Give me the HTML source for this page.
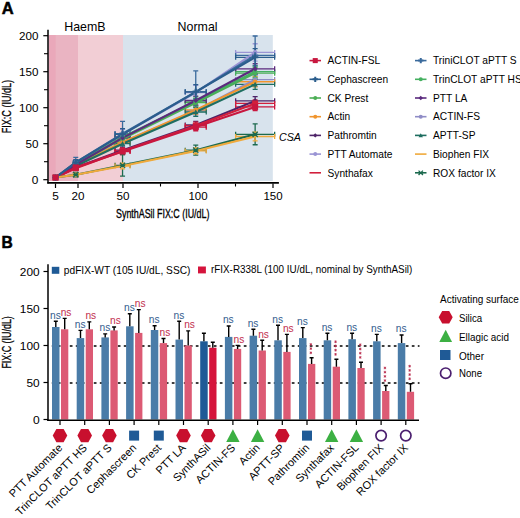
<!DOCTYPE html>
<html><head><meta charset="utf-8"><style>
html,body{margin:0;padding:0;background:#fff;width:520px;height:518px;overflow:hidden}
svg{display:block;font-family:"Liberation Sans", sans-serif}
</style></head><body>
<svg width="520" height="518" viewBox="0 0 520 518">
<rect width="520" height="518" fill="#fff"/>
<rect x="123" y="35" width="149.8" height="146" fill="#d8e3ed"/>
<rect x="48.8" y="35" width="74.2" height="146" fill="#f2ced5"/>
<rect x="48.8" y="35" width="29.20" height="146" fill="#eab4c2"/>
<rect x="48.8" y="35" width="6.90" height="146" fill="#eaa8ba"/>
<path d="M73.5 163.14H78.0M73.5 160.64V165.64M78.0 160.64V165.64" stroke="#9a94d4" stroke-width="1.3"/><path d="M75.75 160.26V166.01M73.25 160.26H78.25M73.25 166.01H78.25" stroke="#9a94d4" stroke-width="1.3"/><path d="M115.05 134.33H130.05M115.05 131.83V136.83M130.05 131.83V136.83" stroke="#9a94d4" stroke-width="1.3"/><path d="M122.55 129.29V139.37M120.05 129.29H125.05M120.05 139.37H125.05" stroke="#9a94d4" stroke-width="1.3"/><path d="M185.25 92.58H206.25M185.25 90.08V95.08M206.25 90.08V95.08" stroke="#9a94d4" stroke-width="1.3"/><path d="M195.75 85.38V99.78M193.25 85.38H198.25M193.25 99.78H198.25" stroke="#9a94d4" stroke-width="1.3"/><path d="M235.64 52.40H274.65M235.64 49.90V54.90M274.65 49.90V54.90" stroke="#9a94d4" stroke-width="1.3"/><path d="M255.14 43.76V61.04M252.64 43.76H257.65M252.64 61.04H257.65" stroke="#9a94d4" stroke-width="1.3"/>
<path d="M73.5 165.29H78.0M73.5 162.79V167.79M78.0 162.79V167.79" stroke="#8f8cc6" stroke-width="1.3"/><path d="M75.75 163.14V167.45M73.25 163.14H78.25M73.25 167.45H78.25" stroke="#8f8cc6" stroke-width="1.3"/><path d="M115.05 142.26H130.05M115.05 139.76V144.76M130.05 139.76V144.76" stroke="#8f8cc6" stroke-width="1.3"/><path d="M122.55 138.66V145.85M120.05 138.66H125.05M120.05 145.85H125.05" stroke="#8f8cc6" stroke-width="1.3"/><path d="M185.25 110.57H206.25M185.25 108.07V113.07M206.25 108.07V113.07" stroke="#8f8cc6" stroke-width="1.3"/><path d="M195.75 106.25V114.89M193.25 106.25H198.25M193.25 114.89H198.25" stroke="#8f8cc6" stroke-width="1.3"/><path d="M235.64 79.61H274.65M235.64 77.11V82.11M274.65 77.11V82.11" stroke="#8f8cc6" stroke-width="1.3"/><path d="M255.14 74.57V84.66M252.64 74.57H257.65M252.64 84.66H257.65" stroke="#8f8cc6" stroke-width="1.3"/>
<path d="M73.5 165.29H78.0M73.5 162.79V167.79M78.0 162.79V167.79" stroke="#f0952e" stroke-width="1.3"/><path d="M75.75 163.14V167.45M73.25 163.14H78.25M73.25 167.45H78.25" stroke="#f0952e" stroke-width="1.3"/><path d="M115.05 142.26H130.05M115.05 139.76V144.76M130.05 139.76V144.76" stroke="#f0952e" stroke-width="1.3"/><path d="M122.55 138.66V145.85M120.05 138.66H125.05M120.05 145.85H125.05" stroke="#f0952e" stroke-width="1.3"/><path d="M185.25 109.85H206.25M185.25 107.35V112.35M206.25 107.35V112.35" stroke="#f0952e" stroke-width="1.3"/><path d="M195.75 105.53V114.17M193.25 105.53H198.25M193.25 114.17H198.25" stroke="#f0952e" stroke-width="1.3"/><path d="M235.64 81.77H274.65M235.64 79.27V84.27M274.65 79.27V84.27" stroke="#f0952e" stroke-width="1.3"/><path d="M255.14 76.73V86.82M252.64 76.73H257.65M252.64 86.82H257.65" stroke="#f0952e" stroke-width="1.3"/>
<path d="M73.5 164.57H78.0M73.5 162.07V167.07M78.0 162.07V167.07" stroke="#4cae55" stroke-width="1.3"/><path d="M75.75 162.42V166.73M73.25 162.42H78.25M73.25 166.73H78.25" stroke="#4cae55" stroke-width="1.3"/><path d="M115.05 138.66H130.05M115.05 136.16V141.16M130.05 136.16V141.16" stroke="#4cae55" stroke-width="1.3"/><path d="M122.55 135.06V142.26M120.05 135.06H125.05M120.05 142.26H125.05" stroke="#4cae55" stroke-width="1.3"/><path d="M185.25 102.66H206.25M185.25 100.16V105.16M206.25 100.16V105.16" stroke="#4cae55" stroke-width="1.3"/><path d="M195.75 98.34V106.97M193.25 98.34H198.25M193.25 106.97H198.25" stroke="#4cae55" stroke-width="1.3"/><path d="M235.64 73.13H274.65M235.64 70.63V75.63M274.65 70.63V75.63" stroke="#4cae55" stroke-width="1.3"/><path d="M255.14 67.37V78.89M252.64 67.37H257.65M252.64 78.89H257.65" stroke="#4cae55" stroke-width="1.3"/>
<path d="M73.5 163.85H78.0M73.5 161.35V166.35M78.0 161.35V166.35" stroke="#45b060" stroke-width="1.3"/><path d="M75.75 161.7V166.01M73.25 161.7H78.25M73.25 166.01H78.25" stroke="#45b060" stroke-width="1.3"/><path d="M115.05 137.22H130.05M115.05 134.72V139.72M130.05 134.72V139.72" stroke="#45b060" stroke-width="1.3"/><path d="M122.55 133.62V140.82M120.05 133.62H125.05M120.05 140.82H125.05" stroke="#45b060" stroke-width="1.3"/><path d="M185.25 101.21H206.25M185.25 98.71V103.71M206.25 98.71V103.71" stroke="#45b060" stroke-width="1.3"/><path d="M195.75 96.89V105.53M193.25 96.89H198.25M193.25 105.53H198.25" stroke="#45b060" stroke-width="1.3"/><path d="M235.64 71.69H274.65M235.64 69.19V74.19M274.65 69.19V74.19" stroke="#45b060" stroke-width="1.3"/><path d="M255.14 65.93V77.46M252.64 65.93H257.65M252.64 77.46H257.65" stroke="#45b060" stroke-width="1.3"/>
<path d="M73.5 166.01H78.0M73.5 163.51V168.51M78.0 163.51V168.51" stroke="#1f6e60" stroke-width="1.3"/><path d="M75.75 163.85V168.17M73.25 163.85H78.25M73.25 168.17H78.25" stroke="#1f6e60" stroke-width="1.3"/><path d="M115.05 143.7H130.05M115.05 141.2V146.2M130.05 141.2V146.2" stroke="#1f6e60" stroke-width="1.3"/><path d="M122.55 140.1V147.29M120.05 140.1H125.05M120.05 147.29H125.05" stroke="#1f6e60" stroke-width="1.3"/><path d="M185.25 112.02H206.25M185.25 109.52V114.52M206.25 109.52V114.52" stroke="#1f6e60" stroke-width="1.3"/><path d="M195.75 107.69V116.34M193.25 107.69H198.25M193.25 116.34H198.25" stroke="#1f6e60" stroke-width="1.3"/><path d="M235.64 84.37H274.65M235.64 81.87V86.87M274.65 81.87V86.87" stroke="#1f6e60" stroke-width="1.3"/><path d="M255.14 79.33V89.41M252.64 79.33H257.65M252.64 89.41H257.65" stroke="#1f6e60" stroke-width="1.3"/>
<path d="M73.5 164.57H78.0M73.5 162.07V167.07M78.0 162.07V167.07" stroke="#5b2a7e" stroke-width="1.3"/><path d="M75.75 162.42V166.73M73.25 162.42H78.25M73.25 166.73H78.25" stroke="#5b2a7e" stroke-width="1.3"/><path d="M115.05 137.94H130.05M115.05 135.44V140.44M130.05 135.44V140.44" stroke="#5b2a7e" stroke-width="1.3"/><path d="M122.55 134.34V141.54M120.05 134.34H125.05M120.05 141.54H125.05" stroke="#5b2a7e" stroke-width="1.3"/><path d="M185.25 100.49H206.25M185.25 97.99V102.99M206.25 97.99V102.99" stroke="#5b2a7e" stroke-width="1.3"/><path d="M195.75 96.17V104.82M193.25 96.17H198.25M193.25 104.82H198.25" stroke="#5b2a7e" stroke-width="1.3"/><path d="M235.64 68.82H274.65M235.64 66.32V71.32M274.65 66.32V71.32" stroke="#5b2a7e" stroke-width="1.3"/><path d="M255.14 63.77V73.86M252.64 63.77H257.65M252.64 73.86H257.65" stroke="#5b2a7e" stroke-width="1.3"/>
<path d="M73.5 167.45H78.0M73.5 164.95V169.95M78.0 164.95V169.95" stroke="#4e2468" stroke-width="1.3"/><path d="M75.75 165.29V169.61M73.25 165.29H78.25M73.25 169.61H78.25" stroke="#4e2468" stroke-width="1.3"/><path d="M115.05 150.17H130.05M115.05 147.67V152.67M130.05 147.67V152.67" stroke="#4e2468" stroke-width="1.3"/><path d="M122.55 147.29V153.05M120.05 147.29H125.05M120.05 153.05H125.05" stroke="#4e2468" stroke-width="1.3"/><path d="M185.25 124.97H206.25M185.25 122.47V127.47M206.25 122.47V127.47" stroke="#4e2468" stroke-width="1.3"/><path d="M195.75 121.38V128.57M193.25 121.38H198.25M193.25 128.57H198.25" stroke="#4e2468" stroke-width="1.3"/><path d="M235.64 100.85H274.65M235.64 98.35V103.35M274.65 98.35V103.35" stroke="#4e2468" stroke-width="1.3"/><path d="M255.14 96.53V105.17M252.64 96.53H257.65M252.64 105.17H257.65" stroke="#4e2468" stroke-width="1.3"/>
<path d="M73.5 168.17H78.0M73.5 165.67V170.67M78.0 165.67V170.67" stroke="#d21f3c" stroke-width="1.3"/><path d="M75.75 166.01V170.33M73.25 166.01H78.25M73.25 170.33H78.25" stroke="#d21f3c" stroke-width="1.3"/><path d="M115.05 150.89H130.05M115.05 148.39V153.39M130.05 148.39V153.39" stroke="#d21f3c" stroke-width="1.3"/><path d="M122.55 148.01V153.77M120.05 148.01H125.05M120.05 153.77H125.05" stroke="#d21f3c" stroke-width="1.3"/><path d="M185.25 125.69H206.25M185.25 123.19V128.2M206.25 123.19V128.2" stroke="#d21f3c" stroke-width="1.3"/><path d="M195.75 122.1V129.29M193.25 122.1H198.25M193.25 129.29H198.25" stroke="#d21f3c" stroke-width="1.3"/><path d="M235.64 103.38H274.65M235.64 100.88V105.88M274.65 100.88V105.88" stroke="#d21f3c" stroke-width="1.3"/><path d="M255.14 99.78V106.97M252.64 99.78H257.65M252.64 106.97H257.65" stroke="#d21f3c" stroke-width="1.3"/>
<path d="M73.5 167.45H78.0M73.5 164.95V169.95M78.0 164.95V169.95" stroke="#c8173f" stroke-width="1.3"/><path d="M75.75 165.29V169.61M73.25 165.29H78.25M73.25 169.61H78.25" stroke="#c8173f" stroke-width="1.3"/><path d="M115.05 151.62H130.05M115.05 149.12V154.12M130.05 149.12V154.12" stroke="#c8173f" stroke-width="1.3"/><path d="M122.55 148.74V154.5M120.05 148.74H125.05M120.05 154.5H125.05" stroke="#c8173f" stroke-width="1.3"/><path d="M185.25 127.13H206.25M185.25 124.63V129.64M206.25 124.63V129.64" stroke="#c8173f" stroke-width="1.3"/><path d="M195.75 123.53V130.73M193.25 123.53H198.25M193.25 130.73H198.25" stroke="#c8173f" stroke-width="1.3"/><path d="M235.64 106.97H274.65M235.64 104.47V109.47M274.65 104.47V109.47" stroke="#c8173f" stroke-width="1.3"/><path d="M255.14 103.38V110.57M252.64 103.38H257.65M252.64 110.57H257.65" stroke="#c8173f" stroke-width="1.3"/>
<path d="M73.5 174.66H78.0M73.5 172.16V177.16M78.0 172.16V177.16" stroke="#1c6a4e" stroke-width="1.3"/><path d="M75.75 172.5V176.82M73.25 172.5H78.25M73.25 176.82H78.25" stroke="#1c6a4e" stroke-width="1.3"/><path d="M115.05 165.29H130.05M115.05 162.79V167.79M130.05 162.79V167.79" stroke="#1c6a4e" stroke-width="1.3"/><path d="M122.55 154.49V176.1M120.05 154.49H125.05M120.05 176.1H125.05" stroke="#1c6a4e" stroke-width="1.3"/><path d="M185.25 150.17H206.25M185.25 147.67V152.67M206.25 147.67V152.67" stroke="#1c6a4e" stroke-width="1.3"/><path d="M195.75 145.14V155.21M193.25 145.14H198.25M193.25 155.21H198.25" stroke="#1c6a4e" stroke-width="1.3"/><path d="M235.64 134.33H274.65M235.64 131.83V136.83M274.65 131.83V136.83" stroke="#1c6a4e" stroke-width="1.3"/><path d="M255.14 123.89V144.77M252.64 123.89H257.65M252.64 144.77H257.65" stroke="#1c6a4e" stroke-width="1.3"/>
<path d="M73.5 174.66H78.0M73.5 172.16V177.16M78.0 172.16V177.16" stroke="#f0aa3c" stroke-width="1.3"/><path d="M75.75 173.22V176.1M73.25 173.22H78.25M73.25 176.1H78.25" stroke="#f0aa3c" stroke-width="1.3"/><path d="M115.05 166.01H130.05M115.05 163.51V168.51M130.05 163.51V168.51" stroke="#f0aa3c" stroke-width="1.3"/><path d="M122.55 163.14V168.89M120.05 163.14H125.05M120.05 168.89H125.05" stroke="#f0aa3c" stroke-width="1.3"/><path d="M185.25 150.89H206.25M185.25 148.39V153.39M206.25 148.39V153.39" stroke="#f0aa3c" stroke-width="1.3"/><path d="M195.75 148.01V153.77M193.25 148.01H198.25M193.25 153.77H198.25" stroke="#f0aa3c" stroke-width="1.3"/><path d="M235.64 136.5H274.65M235.64 134.0V139.0M274.65 134.0V139.0" stroke="#f0aa3c" stroke-width="1.3"/><path d="M255.14 132.18V140.82M252.64 132.18H257.65M252.64 140.82H257.65" stroke="#f0aa3c" stroke-width="1.3"/>
<path d="M73.5 162.42H78.0M73.5 159.92V164.92M78.0 159.92V164.92" stroke="#3a6a9c" stroke-width="1.3"/><path d="M75.75 157.38V167.45M73.25 157.38H78.25M73.25 167.45H78.25" stroke="#3a6a9c" stroke-width="1.3"/><path d="M115.05 133.62H130.05M115.05 131.12V136.12M130.05 131.12V136.12" stroke="#3a6a9c" stroke-width="1.3"/><path d="M122.55 121.38V145.86M120.05 121.38H125.05M120.05 145.86H125.05" stroke="#3a6a9c" stroke-width="1.3"/><path d="M185.25 91.85H206.25M185.25 89.35V94.35M206.25 89.35V94.35" stroke="#3a6a9c" stroke-width="1.3"/><path d="M195.75 70.97V112.73M193.25 70.97H198.25M193.25 112.73H198.25" stroke="#3a6a9c" stroke-width="1.3"/><path d="M235.64 55.42H274.65M235.64 52.92V57.92M274.65 52.92V57.92" stroke="#3a6a9c" stroke-width="1.3"/><path d="M255.14 35.98V74.86M252.64 35.98H257.65M252.64 74.86H257.65" stroke="#3a6a9c" stroke-width="1.3"/>
<path d="M73.5 162.42H78.0M73.5 159.92V164.92M78.0 159.92V164.92" stroke="#2b5d8c" stroke-width="1.3"/><path d="M75.75 159.54V165.29M73.25 159.54H78.25M73.25 165.29H78.25" stroke="#2b5d8c" stroke-width="1.3"/><path d="M115.05 134.33H130.05M115.05 131.83V136.83M130.05 131.83V136.83" stroke="#2b5d8c" stroke-width="1.3"/><path d="M122.55 128.57V140.09M120.05 128.57H125.05M120.05 140.09H125.05" stroke="#2b5d8c" stroke-width="1.3"/><path d="M185.25 91.85H206.25M185.25 89.35V94.35M206.25 89.35V94.35" stroke="#2b5d8c" stroke-width="1.3"/><path d="M195.75 84.65V99.05M193.25 84.65H198.25M193.25 99.05H198.25" stroke="#2b5d8c" stroke-width="1.3"/><path d="M235.64 57.3H274.65M235.64 54.8V59.8M274.65 54.8V59.8" stroke="#2b5d8c" stroke-width="1.3"/><path d="M255.14 48.66V65.94M252.64 48.66H257.65M252.64 65.94H257.65" stroke="#2b5d8c" stroke-width="1.3"/>
<polyline points="55.5,177.5 75.8,163.1 122.6,134.3 195.8,92.6 255.1,52.4" fill="none" stroke="#9a94d4" stroke-width="2.1"/>
<polyline points="55.5,177.5 75.8,165.3 122.6,142.3 195.8,110.6 255.1,79.6" fill="none" stroke="#8f8cc6" stroke-width="2.1"/>
<polyline points="55.5,177.5 75.8,165.3 122.6,142.3 195.8,109.9 255.1,81.8" fill="none" stroke="#f0952e" stroke-width="2.1"/>
<polyline points="55.5,177.5 75.8,164.6 122.6,138.7 195.8,102.7 255.1,73.1" fill="none" stroke="#4cae55" stroke-width="2.1"/>
<polyline points="55.5,177.5 75.8,163.9 122.6,137.2 195.8,101.2 255.1,71.7" fill="none" stroke="#45b060" stroke-width="2.1"/>
<polyline points="55.5,177.5 75.8,166.0 122.6,143.7 195.8,112.0 255.1,84.4" fill="none" stroke="#1f6e60" stroke-width="2.1"/>
<polyline points="55.5,177.5 75.8,164.6 122.6,137.9 195.8,100.5 255.1,68.8" fill="none" stroke="#5b2a7e" stroke-width="2.1"/>
<polyline points="55.5,177.5 75.8,167.5 122.6,150.2 195.8,125.0 255.1,100.9" fill="none" stroke="#4e2468" stroke-width="2.1"/>
<polyline points="55.5,177.5 75.8,168.2 122.6,150.9 195.8,125.7 255.1,103.4" fill="none" stroke="#d21f3c" stroke-width="2.1"/>
<polyline points="55.5,177.5 75.8,167.5 122.6,151.6 195.8,127.1 255.1,107.0" fill="none" stroke="#c8173f" stroke-width="2.1"/>
<polyline points="55.5,177.5 75.8,174.7 122.6,165.3 195.8,150.2 255.1,134.3" fill="none" stroke="#1c6a4e" stroke-width="2.1"/>
<polyline points="55.5,177.5 75.8,174.7 122.6,166.0 195.8,150.9 255.1,136.5" fill="none" stroke="#f0aa3c" stroke-width="2.1"/>
<polyline points="55.5,177.5 75.8,162.4 122.6,133.6 195.8,91.9 255.1,55.4" fill="none" stroke="#3a6a9c" stroke-width="2.1"/>
<polyline points="55.5,177.5 75.8,162.4 122.6,134.3 195.8,91.9 255.1,57.3" fill="none" stroke="#2b5d8c" stroke-width="2.1"/>
<circle cx="55.5" cy="177.54" r="2.34" fill="#9a94d4"/>
<circle cx="75.75" cy="163.14" r="2.34" fill="#9a94d4"/>
<circle cx="122.55" cy="134.33" r="2.34" fill="#9a94d4"/>
<circle cx="195.75" cy="92.58" r="2.34" fill="#9a94d4"/>
<circle cx="255.14" cy="52.40" r="2.34" fill="#9a94d4"/>
<circle cx="55.5" cy="177.54" r="2.34" fill="#8f8cc6"/>
<circle cx="75.75" cy="165.29" r="2.34" fill="#8f8cc6"/>
<circle cx="122.55" cy="142.26" r="2.34" fill="#8f8cc6"/>
<circle cx="195.75" cy="110.57" r="2.34" fill="#8f8cc6"/>
<circle cx="255.14" cy="79.61" r="2.34" fill="#8f8cc6"/>
<circle cx="55.5" cy="177.54" r="2.34" fill="#f0952e"/>
<circle cx="75.75" cy="165.29" r="2.34" fill="#f0952e"/>
<circle cx="122.55" cy="142.26" r="2.34" fill="#f0952e"/>
<circle cx="195.75" cy="109.85" r="2.34" fill="#f0952e"/>
<circle cx="255.14" cy="81.77" r="2.34" fill="#f0952e"/>
<circle cx="55.5" cy="177.54" r="2.34" fill="#4cae55"/>
<circle cx="75.75" cy="164.57" r="2.34" fill="#4cae55"/>
<circle cx="122.55" cy="138.66" r="2.34" fill="#4cae55"/>
<circle cx="195.75" cy="102.66" r="2.34" fill="#4cae55"/>
<circle cx="255.14" cy="73.13" r="2.34" fill="#4cae55"/>
<circle cx="55.5" cy="177.54" r="2.34" fill="#45b060"/>
<circle cx="75.75" cy="163.85" r="2.34" fill="#45b060"/>
<circle cx="122.55" cy="137.22" r="2.34" fill="#45b060"/>
<circle cx="195.75" cy="101.21" r="2.34" fill="#45b060"/>
<circle cx="255.14" cy="71.69" r="2.34" fill="#45b060"/>
<path d="M55.5 174.94 L58.1 179.62 L52.9 179.62Z" fill="#1f6e60"/>
<path d="M75.75 163.42 L78.35 168.1 L73.15 168.1Z" fill="#1f6e60"/>
<path d="M122.55 141.1 L125.15 145.78 L119.95 145.78Z" fill="#1f6e60"/>
<path d="M195.75 109.42 L198.35 114.1 L193.15 114.1Z" fill="#1f6e60"/>
<path d="M255.14 81.77 L257.75 86.45 L252.54 86.45Z" fill="#1f6e60"/>
<path d="M55.5 174.94 L58.1 177.54 L55.5 180.14 L52.9 177.54Z" fill="#5b2a7e"/>
<path d="M75.75 161.98 L78.35 164.57 L75.75 167.17 L73.15 164.57Z" fill="#5b2a7e"/>
<path d="M122.55 135.34 L125.15 137.94 L122.55 140.54 L119.95 137.94Z" fill="#5b2a7e"/>
<path d="M195.75 97.89 L198.35 100.49 L195.75 103.09 L193.15 100.49Z" fill="#5b2a7e"/>
<path d="M255.14 66.22 L257.75 68.82 L255.14 71.41 L252.54 68.82Z" fill="#5b2a7e"/>
<path d="M55.5 174.94 L58.1 177.54 L55.5 180.14 L52.9 177.54Z" fill="#4e2468"/>
<path d="M75.75 164.85 L78.35 167.45 L75.75 170.05 L73.15 167.45Z" fill="#4e2468"/>
<path d="M122.55 147.57 L125.15 150.17 L122.55 152.77 L119.95 150.17Z" fill="#4e2468"/>
<path d="M195.75 122.38 L198.35 124.97 L195.75 127.57 L193.15 124.97Z" fill="#4e2468"/>
<path d="M255.14 98.25 L257.75 100.85 L255.14 103.45 L252.54 100.85Z" fill="#4e2468"/>
<rect x="52.51" y="174.54" width="5.97" height="5.97" fill="#d21f3c"/>
<rect x="72.76" y="165.18" width="5.97" height="5.97" fill="#d21f3c"/>
<rect x="119.56" y="147.90" width="5.97" height="5.97" fill="#d21f3c"/>
<rect x="192.76" y="122.71" width="5.97" height="5.97" fill="#d21f3c"/>
<rect x="252.15" y="100.39" width="5.97" height="5.97" fill="#d21f3c"/>
<path d="M52.9 174.94L58.1 180.14M58.1 174.94L52.9 180.14M52.9 177.54H58.1" stroke="#1c6a4e" stroke-width="1.3"/>
<path d="M73.15 172.06L78.35 177.26M78.35 172.06L73.15 177.26M73.15 174.66H78.35" stroke="#1c6a4e" stroke-width="1.3"/>
<path d="M119.95 162.7L125.15 167.89M125.15 162.7L119.95 167.89M119.95 165.29H125.15" stroke="#1c6a4e" stroke-width="1.3"/>
<path d="M193.15 147.57L198.35 152.77M198.35 147.57L193.15 152.77M193.15 150.17H198.35" stroke="#1c6a4e" stroke-width="1.3"/>
<path d="M252.54 131.73L257.75 136.93M257.75 131.73L252.54 136.93M252.54 134.33H257.75" stroke="#1c6a4e" stroke-width="1.3"/>





<path d="M52.38 177.54H58.62M55.5 174.42V180.66" stroke="#3a6a9c" stroke-width="2"/>
<path d="M72.63 162.42H78.87M75.75 159.29V165.54" stroke="#3a6a9c" stroke-width="2"/>
<path d="M119.43 133.62H125.67M122.55 130.5V136.74" stroke="#3a6a9c" stroke-width="2"/>
<path d="M192.63 91.85H198.87M195.75 88.73V94.97" stroke="#3a6a9c" stroke-width="2"/>
<path d="M252.02 55.42H258.27M255.14 52.30V58.54" stroke="#3a6a9c" stroke-width="2"/>
<path d="M52.38 177.54H58.62M55.5 174.42V180.66" stroke="#2b5d8c" stroke-width="2"/>
<path d="M72.63 162.42H78.87M75.75 159.29V165.54" stroke="#2b5d8c" stroke-width="2"/>
<path d="M119.43 134.33H125.67M122.55 131.21V137.45" stroke="#2b5d8c" stroke-width="2"/>
<path d="M192.63 91.85H198.87M195.75 88.73V94.97" stroke="#2b5d8c" stroke-width="2"/>
<path d="M252.02 57.3H258.27M255.14 54.18V60.41" stroke="#2b5d8c" stroke-width="2"/>
<rect x="52.51" y="174.54" width="5.97" height="5.97" fill="#c8173f"/>
<rect x="72.76" y="164.46" width="5.97" height="5.97" fill="#c8173f"/>
<rect x="119.56" y="148.63" width="5.97" height="5.97" fill="#c8173f"/>
<rect x="192.76" y="124.14" width="5.97" height="5.97" fill="#c8173f"/>
<rect x="252.15" y="103.99" width="5.97" height="5.97" fill="#c8173f"/>
<path d="M48 29.8V183.5" stroke="#000" stroke-width="1.5"/>
<path d="M47.3 182.9H278.9" stroke="#000" stroke-width="1.6"/>
<path d="M43.3 179.7H48" stroke="#000" stroke-width="1.2"/>
<text x="38.4" y="183.5" font-size="10.6" text-anchor="end" textLength="6.6" lengthAdjust="spacingAndGlyphs">0</text>
<path d="M43.3 143.7H48" stroke="#000" stroke-width="1.2"/>
<text x="38.4" y="147.5" font-size="10.6" text-anchor="end" textLength="13.0" lengthAdjust="spacingAndGlyphs">50</text>
<path d="M43.3 107.7H48" stroke="#000" stroke-width="1.2"/>
<text x="38.4" y="111.5" font-size="10.6" text-anchor="end" textLength="19.4" lengthAdjust="spacingAndGlyphs">100</text>
<path d="M43.3 71.7H48" stroke="#000" stroke-width="1.2"/>
<text x="38.4" y="75.5" font-size="10.6" text-anchor="end" textLength="19.4" lengthAdjust="spacingAndGlyphs">150</text>
<path d="M43.3 35.7H48" stroke="#000" stroke-width="1.2"/>
<text x="38.4" y="39.5" font-size="10.6" text-anchor="end" textLength="19.4" lengthAdjust="spacingAndGlyphs">200</text>
<path d="M44 161.7H48" stroke="#000" stroke-width="1.1"/>
<path d="M44 125.7H48" stroke="#000" stroke-width="1.1"/>
<path d="M44 89.7H48" stroke="#000" stroke-width="1.1"/>
<path d="M44 53.7H48" stroke="#000" stroke-width="1.1"/>
<path d="M55.5 183.5V188" stroke="#000" stroke-width="1.2"/>
<text x="55.5" y="199.6" font-size="10.6" text-anchor="middle" textLength="6.6" lengthAdjust="spacingAndGlyphs">5</text>
<path d="M78.0 183.5V188" stroke="#000" stroke-width="1.2"/>
<text x="78.0" y="199.6" font-size="10.6" text-anchor="middle" textLength="13.0" lengthAdjust="spacingAndGlyphs">20</text>
<path d="M123.0 183.5V188" stroke="#000" stroke-width="1.2"/>
<text x="123.0" y="199.6" font-size="10.6" text-anchor="middle" textLength="13.0" lengthAdjust="spacingAndGlyphs">50</text>
<path d="M198.0 183.5V188" stroke="#000" stroke-width="1.2"/>
<text x="198.0" y="199.6" font-size="10.6" text-anchor="middle" textLength="19.2" lengthAdjust="spacingAndGlyphs">100</text>
<path d="M273.0 183.5V188" stroke="#000" stroke-width="1.2"/>
<text x="273.0" y="199.6" font-size="10.6" text-anchor="middle" textLength="19.2" lengthAdjust="spacingAndGlyphs">150</text>
<path d="M160.5 183.5V186.5" stroke="#000" stroke-width="1.1"/>
<path d="M235.5 183.5V186.5" stroke="#000" stroke-width="1.1"/>
<text x="1.8" y="13.9" font-size="16.5" font-weight="bold" stroke="#000" stroke-width="0.5">A</text>
<text x="64.2" y="30.9" font-size="12.4">HaemB</text>
<text x="177.6" y="30.6" font-size="12.4">Normal</text>
<text x="279" y="140.6" font-size="10.7" font-style="italic">CSA</text>
<text x="0" y="0" font-size="12.5" stroke="#000" stroke-width="0.32" text-anchor="middle" transform="translate(162.7 217.8) scale(0.72 1)" textLength="129.7" lengthAdjust="spacingAndGlyphs">SynthASil FIX:C (IU/dL)</text>
<text x="0" y="0" font-size="12.5" stroke="#000" stroke-width="0.32" text-anchor="middle" transform="translate(10.9 106.6) rotate(-90) scale(0.72 1)" textLength="73.9" lengthAdjust="spacingAndGlyphs">FIX:C (IU/dL)</text>
<path d="M309.5 60.6H321.0" stroke="#c8173f" stroke-width="1.6"/>
<rect x="312.72" y="58.07" width="5.06" height="5.06" fill="#c8173f"/>
<text x="327.5" y="64.3" font-size="10.2">ACTIN-FSL</text>
<path d="M309.5 79.3H321.0" stroke="#2b5d8c" stroke-width="1.6"/>
<path d="M312.61 79.3H317.89M315.25 76.66V81.94" stroke="#2b5d8c" stroke-width="2"/>
<text x="327.5" y="83.0" font-size="10.2">Cephascreen</text>
<path d="M309.5 98.0H321.0" stroke="#4cae55" stroke-width="1.6"/>
<circle cx="315.25" cy="98.0" r="1.98" fill="#4cae55"/>
<text x="327.5" y="101.7" font-size="10.2">CK Prest</text>
<path d="M309.5 116.69H321.0" stroke="#f0952e" stroke-width="1.6"/>
<circle cx="315.25" cy="116.69" r="1.98" fill="#f0952e"/>
<text x="327.5" y="120.4" font-size="10.2">Actin</text>
<path d="M309.5 135.4H321.0" stroke="#4e2468" stroke-width="1.6"/>
<path d="M315.25 133.20 L317.45 135.4 L315.25 137.6 L313.05 135.4Z" fill="#4e2468"/>
<text x="327.5" y="139.1" font-size="10.2">Pathromtin</text>
<path d="M309.5 154.1H321.0" stroke="#9a94d4" stroke-width="1.6"/>
<circle cx="315.25" cy="154.1" r="1.98" fill="#9a94d4"/>
<text x="327.5" y="157.8" font-size="10.2">PTT Automate</text>
<path d="M309.5 172.79H321.0" stroke="#d21f3c" stroke-width="1.6"/>

<text x="327.5" y="176.5" font-size="10.2">Synthafax</text>
<path d="M415 60.6H426.5" stroke="#3a6a9c" stroke-width="1.6"/>
<path d="M418.11 60.6H423.39M420.75 57.96V63.24" stroke="#3a6a9c" stroke-width="2"/>
<text x="433" y="64.3" font-size="10.2">TriniCLOT aPTT S</text>
<path d="M415 79.3H426.5" stroke="#45b060" stroke-width="1.6"/>
<circle cx="420.75" cy="79.3" r="1.98" fill="#45b060"/>
<text x="433" y="83.0" font-size="10.2">TrinCLOT aPTT HS</text>
<path d="M415 98.0H426.5" stroke="#5b2a7e" stroke-width="1.6"/>
<path d="M420.75 95.8 L422.95 98.0 L420.75 100.2 L418.55 98.0Z" fill="#5b2a7e"/>
<text x="433" y="101.7" font-size="10.2">PTT LA</text>
<path d="M415 116.69H426.5" stroke="#8f8cc6" stroke-width="1.6"/>
<circle cx="420.75" cy="116.69" r="1.98" fill="#8f8cc6"/>
<text x="433" y="120.4" font-size="10.2">ACTIN-FS</text>
<path d="M415 135.4H426.5" stroke="#1f6e60" stroke-width="1.6"/>
<path d="M420.75 133.20 L422.95 137.16 L418.55 137.16Z" fill="#1f6e60"/>
<text x="433" y="139.1" font-size="10.2">APTT-SP</text>
<path d="M415 154.1H426.5" stroke="#f0aa3c" stroke-width="1.6"/>

<text x="433" y="157.8" font-size="10.2">Biophen FIX</text>
<path d="M415 172.79H426.5" stroke="#1c6a4e" stroke-width="1.6"/>
<path d="M418.55 170.6L422.95 174.99M422.95 170.6L418.55 174.99M418.55 172.79H422.95" stroke="#1c6a4e" stroke-width="1.3"/>
<text x="433" y="176.5" font-size="10.2">ROX factor IX</text>
<path d="M51.8 383.0H419.5" stroke="#000" stroke-width="1.3" stroke-dasharray="2.7 3.3"/>
<path d="M51.8 346.0H419.5" stroke="#000" stroke-width="1.3" stroke-dasharray="2.7 3.3"/>
<rect x="52.0" y="327.0" width="7.5" height="92.5" fill="#4a7ca8"/>
<rect x="61.0" y="329.3" width="7.3" height="90.2" fill="#dc5a74"/>
<path d="M55.8 327.0V321.2M53.8 321.2H57.8" stroke="#000" stroke-width="1.4"/>
<path d="M64.7 329.3V318.4M62.7 318.4H66.7" stroke="#000" stroke-width="1.4"/>
<text x="55.5" y="318.6" text-anchor="middle" font-size="10.2" fill="#335d8e">ns</text>
<text x="66.1" y="315.8" text-anchor="middle" font-size="10.2" fill="#c22e4e">ns</text>
<path d="M60.0 420.3V425" stroke="#000" stroke-width="1.2"/>
<path d="M52.7 435.6L56.4 428.9H63.6L67.3 435.6L63.6 442.3H56.4Z" fill="#c8102e"/>
<text x="0" y="0" text-anchor="end" font-size="11" transform="translate(63.0 448.5) rotate(-45)">PTT Automate</text>
<rect x="76.7" y="338.1" width="7.5" height="81.4" fill="#4a7ca8"/>
<rect x="85.7" y="329.3" width="7.3" height="90.2" fill="#dc5a74"/>
<path d="M80.5 338.1V330.4M78.5 330.4H82.5" stroke="#000" stroke-width="1.4"/>
<path d="M89.3 329.3V321.9M87.3 321.9H91.3" stroke="#000" stroke-width="1.4"/>
<text x="80.2" y="327.8" text-anchor="middle" font-size="10.2" fill="#335d8e">ns</text>
<text x="90.8" y="319.3" text-anchor="middle" font-size="10.2" fill="#c22e4e">ns</text>
<path d="M84.7 420.3V425" stroke="#000" stroke-width="1.2"/>
<path d="M77.4 435.6L81.0 428.9H88.4L92.0 435.6L88.4 442.3H81.0Z" fill="#c8102e"/>
<text x="0" y="0" text-anchor="end" font-size="11" transform="translate(87.7 448.5) rotate(-45)">TrinCLOT aPTT HS</text>
<rect x="101.4" y="337.4" width="7.5" height="82.1" fill="#4a7ca8"/>
<rect x="110.4" y="330.4" width="7.3" height="89.1" fill="#dc5a74"/>
<path d="M105.2 337.4V333.9M103.2 333.9H107.2" stroke="#000" stroke-width="1.4"/>
<path d="M114.1 330.4V327.0M112.1 327.0H116.1" stroke="#000" stroke-width="1.4"/>
<text x="104.9" y="331.3" text-anchor="middle" font-size="10.2" fill="#335d8e">ns</text>
<text x="115.5" y="324.4" text-anchor="middle" font-size="10.2" fill="#c22e4e">ns</text>
<path d="M109.4 420.3V425" stroke="#000" stroke-width="1.2"/>
<path d="M102.1 435.6L105.8 428.9H113.1L116.7 435.6L113.1 442.3H105.8Z" fill="#c8102e"/>
<text x="0" y="0" text-anchor="end" font-size="11" transform="translate(112.4 448.5) rotate(-45)">TrinCLOT aPTT S</text>
<rect x="126.1" y="326.3" width="7.5" height="93.2" fill="#4a7ca8"/>
<rect x="135.1" y="332.9" width="7.3" height="86.6" fill="#dc5a74"/>
<path d="M129.8 326.3V313.8M127.8 313.8H131.8" stroke="#000" stroke-width="1.4"/>
<path d="M138.8 332.9V309.6M136.8 309.6H140.8" stroke="#000" stroke-width="1.4"/>
<text x="129.5" y="311.2" text-anchor="middle" font-size="10.2" fill="#335d8e">ns</text>
<text x="140.2" y="307.0" text-anchor="middle" font-size="10.2" fill="#c22e4e">ns</text>
<path d="M134.1 420.3V425" stroke="#000" stroke-width="1.2"/>
<rect x="129.1" y="430.6" width="10" height="10" fill="#1f5a96"/>
<text x="0" y="0" text-anchor="end" font-size="11" transform="translate(137.1 448.5) rotate(-45)">Cephascreen</text>
<rect x="150.8" y="330.0" width="7.5" height="89.5" fill="#4a7ca8"/>
<rect x="159.8" y="343.1" width="7.3" height="76.4" fill="#dc5a74"/>
<path d="M154.6 330.0V325.8M152.6 325.8H156.6" stroke="#000" stroke-width="1.4"/>
<path d="M163.5 343.1V338.5M161.5 338.5H165.5" stroke="#000" stroke-width="1.4"/>
<text x="154.2" y="323.2" text-anchor="middle" font-size="10.2" fill="#335d8e">ns</text>
<text x="164.9" y="335.9" text-anchor="middle" font-size="10.2" fill="#c22e4e">ns</text>
<path d="M158.8 420.3V425" stroke="#000" stroke-width="1.2"/>
<rect x="153.8" y="430.6" width="10" height="10" fill="#1f5a96"/>
<text x="0" y="0" text-anchor="end" font-size="11" transform="translate(161.8 448.5) rotate(-45)">CK Prest</text>
<rect x="175.5" y="339.6" width="7.5" height="79.9" fill="#4a7ca8"/>
<rect x="184.5" y="345.5" width="7.3" height="74.0" fill="#dc5a74"/>
<path d="M179.2 339.6V321.2M177.2 321.2H181.2" stroke="#000" stroke-width="1.4"/>
<path d="M188.2 345.5V330.9M186.2 330.9H190.2" stroke="#000" stroke-width="1.4"/>
<text x="178.9" y="318.6" text-anchor="middle" font-size="10.2" fill="#335d8e">ns</text>
<text x="189.6" y="328.3" text-anchor="middle" font-size="10.2" fill="#c22e4e">ns</text>
<path d="M183.5 420.3V425" stroke="#000" stroke-width="1.2"/>
<path d="M176.2 435.6L179.8 428.9H187.2L190.8 435.6L187.2 442.3H179.8Z" fill="#c8102e"/>
<text x="0" y="0" text-anchor="end" font-size="11" transform="translate(186.5 448.5) rotate(-45)">PTT LA</text>
<rect x="200.2" y="341.3" width="7.5" height="78.2" fill="#1f5a96"/>
<rect x="209.2" y="347.7" width="7.3" height="71.8" fill="#d5143c"/>
<path d="M203.9 341.3V333.2M201.9 333.2H205.9" stroke="#000" stroke-width="1.4"/>
<path d="M212.8 347.7V342.2M210.8 342.2H214.8" stroke="#000" stroke-width="1.4"/>
<path d="M208.2 420.3V425" stroke="#000" stroke-width="1.2"/>
<path d="M200.9 435.6L204.5 428.9H211.8L215.5 435.6L211.8 442.3H204.5Z" fill="#c8102e"/>
<text x="0" y="0" text-anchor="end" font-size="11" transform="translate(211.2 448.5) rotate(-45)">SynthASil</text>
<rect x="224.9" y="336.9" width="7.5" height="82.6" fill="#4a7ca8"/>
<rect x="233.9" y="348.9" width="7.3" height="70.6" fill="#dc5a74"/>
<path d="M228.7 336.9V326.0M226.7 326.0H230.7" stroke="#000" stroke-width="1.4"/>
<path d="M237.6 348.9V345.4M235.6 345.4H239.6" stroke="#000" stroke-width="1.4"/>
<text x="228.3" y="323.4" text-anchor="middle" font-size="10.2" fill="#335d8e">ns</text>
<text x="239.0" y="342.8" text-anchor="middle" font-size="10.2" fill="#c22e4e">ns</text>
<path d="M232.9 420.3V425" stroke="#000" stroke-width="1.2"/>
<path d="M232.9 429.3L239.6 442.1H226.2Z" fill="#3cb043"/>
<text x="0" y="0" text-anchor="end" font-size="11" transform="translate(235.9 448.5) rotate(-45)">ACTIN-FS</text>
<rect x="249.6" y="335.7" width="7.5" height="83.8" fill="#4a7ca8"/>
<rect x="258.6" y="350.5" width="7.3" height="69.0" fill="#dc5a74"/>
<path d="M253.4 335.7V329.3M251.4 329.3H255.4" stroke="#000" stroke-width="1.4"/>
<path d="M262.2 350.5V340.3M260.2 340.3H264.2" stroke="#000" stroke-width="1.4"/>
<text x="253.1" y="326.7" text-anchor="middle" font-size="10.2" fill="#335d8e">ns</text>
<text x="263.6" y="337.7" text-anchor="middle" font-size="10.2" fill="#c22e4e">ns</text>
<path d="M257.6 420.3V425" stroke="#000" stroke-width="1.2"/>
<path d="M257.6 429.3L264.3 442.1H250.9Z" fill="#3cb043"/>
<text x="0" y="0" text-anchor="end" font-size="11" transform="translate(260.6 448.5) rotate(-45)">Actin</text>
<rect x="274.3" y="340.3" width="7.5" height="79.2" fill="#4a7ca8"/>
<rect x="283.3" y="351.9" width="7.3" height="67.6" fill="#dc5a74"/>
<path d="M278.0 340.3V325.3M276.0 325.3H280.0" stroke="#000" stroke-width="1.4"/>
<path d="M286.9 351.9V334.4M284.9 334.4H288.9" stroke="#000" stroke-width="1.4"/>
<text x="277.7" y="322.7" text-anchor="middle" font-size="10.2" fill="#335d8e">ns</text>
<text x="288.3" y="331.8" text-anchor="middle" font-size="10.2" fill="#c22e4e">ns</text>
<path d="M282.3 420.3V425" stroke="#000" stroke-width="1.2"/>
<path d="M275.0 435.6L278.6 428.9H285.9L289.6 435.6L285.9 442.3H278.6Z" fill="#c8102e"/>
<text x="0" y="0" text-anchor="end" font-size="11" transform="translate(285.3 448.5) rotate(-45)">APTT-SP</text>
<rect x="299.0" y="338.1" width="7.5" height="81.4" fill="#4a7ca8"/>
<rect x="308.0" y="363.9" width="7.3" height="55.6" fill="#dc5a74"/>
<path d="M302.8 338.1V327.6M300.8 327.6H304.8" stroke="#000" stroke-width="1.4"/>
<path d="M311.6 363.9V357.7M309.6 357.7H313.6" stroke="#000" stroke-width="1.4"/>
<text x="302.4" y="325.0" text-anchor="middle" font-size="10.2" fill="#335d8e">ns</text>
<path d="M310.85 354.16L310.85 351.46M312.02 353.49L309.68 352.13M309.68 353.49L312.02 352.13" stroke="#b8284a" stroke-width="0.8"/>
<path d="M310.85 349.96L310.85 347.26M312.02 349.29L309.68 347.94M309.68 349.29L312.02 347.94" stroke="#b8284a" stroke-width="0.8"/>
<path d="M310.85 345.76L310.85 343.06M312.02 345.09L309.68 343.74M309.68 345.09L312.02 343.74" stroke="#b8284a" stroke-width="0.8"/>
<path d="M307.0 420.3V425" stroke="#000" stroke-width="1.2"/>
<rect x="302.0" y="430.6" width="10" height="10" fill="#1f5a96"/>
<text x="0" y="0" text-anchor="end" font-size="11" transform="translate(310.0 448.5) rotate(-45)">Pathromtin</text>
<rect x="323.7" y="340.3" width="7.5" height="79.2" fill="#4a7ca8"/>
<rect x="332.7" y="366.7" width="7.3" height="52.8" fill="#dc5a74"/>
<path d="M327.4 340.3V333.2M325.4 333.2H329.4" stroke="#000" stroke-width="1.4"/>
<path d="M336.4 366.7V359.3M334.4 359.3H338.4" stroke="#000" stroke-width="1.4"/>
<text x="327.1" y="330.6" text-anchor="middle" font-size="10.2" fill="#335d8e">ns</text>
<path d="M335.55 355.71L335.55 353.01M336.72 355.04L334.38 353.69M334.38 355.04L336.72 353.69" stroke="#b8284a" stroke-width="0.8"/>
<path d="M335.55 351.51L335.55 348.81M336.72 350.84L334.38 349.49M334.38 350.84L336.72 349.49" stroke="#b8284a" stroke-width="0.8"/>
<path d="M335.55 347.31L335.55 344.61M336.72 346.64L334.38 345.29M334.38 346.64L336.72 345.29" stroke="#b8284a" stroke-width="0.8"/>
<path d="M335.55 343.11L335.55 340.41M336.72 342.44L334.38 341.09M334.38 342.44L336.72 341.09" stroke="#b8284a" stroke-width="0.8"/>
<path d="M331.7 420.3V425" stroke="#000" stroke-width="1.2"/>
<path d="M331.7 429.3L338.4 442.1H325.0Z" fill="#3cb043"/>
<text x="0" y="0" text-anchor="end" font-size="11" transform="translate(334.7 448.5) rotate(-45)">Synthafax</text>
<rect x="348.4" y="339.2" width="7.5" height="80.3" fill="#4a7ca8"/>
<rect x="357.4" y="368.0" width="7.3" height="51.5" fill="#dc5a74"/>
<path d="M352.1 339.2V333.2M350.1 333.2H354.1" stroke="#000" stroke-width="1.4"/>
<path d="M361.0 368.0V362.3M359.0 362.3H363.0" stroke="#000" stroke-width="1.4"/>
<text x="351.8" y="330.6" text-anchor="middle" font-size="10.2" fill="#335d8e">ns</text>
<path d="M360.25 358.75L360.25 356.05M361.42 358.07L359.08 356.72M359.08 358.07L361.42 356.72" stroke="#b8284a" stroke-width="0.8"/>
<path d="M360.25 354.55L360.25 351.85M361.42 353.87L359.08 352.52M359.08 353.87L361.42 352.52" stroke="#b8284a" stroke-width="0.8"/>
<path d="M360.25 350.35L360.25 347.65M361.42 349.67L359.08 348.32M359.08 349.67L361.42 348.32" stroke="#b8284a" stroke-width="0.8"/>
<path d="M360.25 346.15L360.25 343.45M361.42 345.47L359.08 344.12M359.08 345.47L361.42 344.12" stroke="#b8284a" stroke-width="0.8"/>
<path d="M356.4 420.3V425" stroke="#000" stroke-width="1.2"/>
<path d="M356.4 429.3L363.1 442.1H349.7Z" fill="#3cb043"/>
<text x="0" y="0" text-anchor="end" font-size="11" transform="translate(359.4 448.5) rotate(-45)">ACTIN-FSL</text>
<rect x="373.1" y="341.3" width="7.5" height="78.2" fill="#4a7ca8"/>
<rect x="382.1" y="391.0" width="7.3" height="28.5" fill="#dc5a74"/>
<path d="M376.8 341.3V334.4M374.8 334.4H378.8" stroke="#000" stroke-width="1.4"/>
<path d="M385.8 391.0V385.5M383.8 385.5H387.8" stroke="#000" stroke-width="1.4"/>
<text x="376.5" y="331.8" text-anchor="middle" font-size="10.2" fill="#335d8e">ns</text>
<path d="M384.95 381.91L384.95 379.21M386.12 381.24L383.78 379.88M383.78 381.24L386.12 379.88" stroke="#b8284a" stroke-width="0.8"/>
<path d="M384.95 377.71L384.95 375.01M386.12 377.04L383.78 375.69M383.78 377.04L386.12 375.69" stroke="#b8284a" stroke-width="0.8"/>
<path d="M384.95 373.51L384.95 370.81M386.12 372.84L383.78 371.49M383.78 372.84L386.12 371.49" stroke="#b8284a" stroke-width="0.8"/>
<path d="M384.95 369.31L384.95 366.61M386.12 368.63L383.78 367.28M383.78 368.63L386.12 367.28" stroke="#b8284a" stroke-width="0.8"/>
<path d="M381.1 420.3V425" stroke="#000" stroke-width="1.2"/>
<circle cx="381.1" cy="435.6" r="5.2" fill="none" stroke="#4b1f6f" stroke-width="1.7"/>
<text x="0" y="0" text-anchor="end" font-size="11" transform="translate(384.1 448.5) rotate(-45)">Biophen FIX</text>
<rect x="397.8" y="343.1" width="7.5" height="76.4" fill="#4a7ca8"/>
<rect x="406.8" y="391.8" width="7.3" height="27.7" fill="#dc5a74"/>
<path d="M401.6 343.1V335.0M399.6 335.0H403.6" stroke="#000" stroke-width="1.4"/>
<path d="M410.5 391.8V383.7M408.5 383.7H412.5" stroke="#000" stroke-width="1.4"/>
<text x="401.2" y="332.4" text-anchor="middle" font-size="10.2" fill="#335d8e">ns</text>
<path d="M409.65 380.13L409.65 377.43M410.82 379.46L408.48 378.11M408.48 379.46L410.82 378.11" stroke="#b8284a" stroke-width="0.8"/>
<path d="M409.65 375.93L409.65 373.23M410.82 375.26L408.48 373.91M408.48 375.26L410.82 373.91" stroke="#b8284a" stroke-width="0.8"/>
<path d="M409.65 371.73L409.65 369.03M410.82 371.06L408.48 369.71M408.48 371.06L410.82 369.71" stroke="#b8284a" stroke-width="0.8"/>
<path d="M409.65 367.53L409.65 364.83M410.82 366.86L408.48 365.51M408.48 366.86L410.82 365.51" stroke="#b8284a" stroke-width="0.8"/>
<path d="M405.8 420.3V425" stroke="#000" stroke-width="1.2"/>
<circle cx="405.8" cy="435.6" r="5.2" fill="none" stroke="#4b1f6f" stroke-width="1.7"/>
<text x="0" y="0" text-anchor="end" font-size="11" transform="translate(408.8 448.5) rotate(-45)">ROX factor IX</text>
<path d="M48 264.2V421" stroke="#000" stroke-width="1.5"/>
<path d="M47.3 420.3H419" stroke="#000" stroke-width="1.6"/>
<path d="M43.5 419.5H48" stroke="#000" stroke-width="1.2"/>
<text x="39.6" y="423.7" font-size="10.6" text-anchor="end" textLength="6.7" lengthAdjust="spacingAndGlyphs">0</text>
<path d="M43.5 382.5H48" stroke="#000" stroke-width="1.2"/>
<text x="39.6" y="386.7" font-size="10.6" text-anchor="end" textLength="13.2" lengthAdjust="spacingAndGlyphs">50</text>
<path d="M43.5 345.5H48" stroke="#000" stroke-width="1.2"/>
<text x="39.6" y="349.7" font-size="10.6" text-anchor="end" textLength="19.8" lengthAdjust="spacingAndGlyphs">100</text>
<path d="M43.5 308.5H48" stroke="#000" stroke-width="1.2"/>
<text x="39.6" y="312.7" font-size="10.6" text-anchor="end" textLength="19.8" lengthAdjust="spacingAndGlyphs">150</text>
<path d="M43.5 271.5H48" stroke="#000" stroke-width="1.2"/>
<text x="39.6" y="275.7" font-size="10.6" text-anchor="end" textLength="19.8" lengthAdjust="spacingAndGlyphs">200</text>
<text x="0" y="0" font-size="12.5" stroke="#000" stroke-width="0.32" text-anchor="middle" transform="translate(10.9 342.4) rotate(-90) scale(0.72 1)" textLength="72.8" lengthAdjust="spacingAndGlyphs">FIX:C (IU/dL)</text>
<text x="1.4" y="247.6" font-size="15.6" font-weight="bold" stroke="#000" stroke-width="0.5">B</text>
<rect x="51.8" y="266.8" width="7.5" height="7" fill="#1f5a96"/>
<text x="63.8" y="273.8" font-size="10.2">pdFIX-WT (105 IU/dL, SSC)</text>
<rect x="198" y="266.5" width="7.9" height="6.9" fill="#d5143c"/>
<text x="211" y="273.4" font-size="10.2" textLength="201.3" lengthAdjust="spacingAndGlyphs">rFIX-R338L (100 IU/dL, nominal by SynthASil)</text>
<text x="440" y="303.3" font-size="10.6" textLength="78.8" lengthAdjust="spacingAndGlyphs">Activating surface</text>
<path d="M438.7 317.3L442.2 311.1H449.2L452.7 317.3L449.2 323.5H442.2Z" fill="#c8102e"/>
<text x="459" y="322" font-size="10.6" textLength="23.1" lengthAdjust="spacingAndGlyphs">Silica</text>
<path d="M445.7 329.8L452.09 342H439.3Z" fill="#3cb043"/>
<text x="459" y="340.6" font-size="10.6" textLength="50" lengthAdjust="spacingAndGlyphs">Ellagic acid</text>
<rect x="440" y="350" width="10.5" height="10" fill="#1f5a96"/>
<text x="459" y="359.9" font-size="10.6" textLength="25" lengthAdjust="spacingAndGlyphs">Other</text>
<circle cx="445.7" cy="373.2" r="5.2" fill="none" stroke="#4b1f6f" stroke-width="1.7"/>
<text x="459" y="377.3" font-size="10.6" textLength="23" lengthAdjust="spacingAndGlyphs">None</text>
</svg></body></html>
